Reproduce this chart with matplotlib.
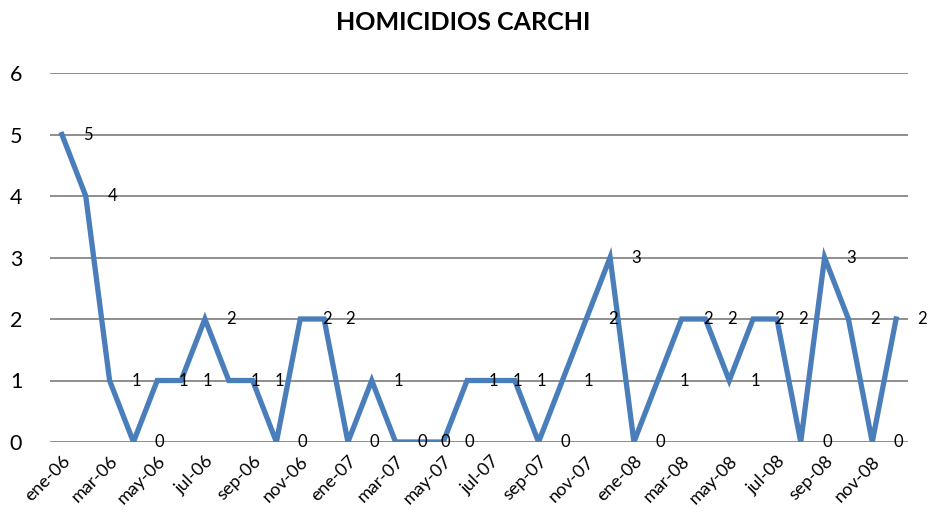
import matplotlib
matplotlib.use('Agg')

import numpy as np
import matplotlib.pyplot as plt

# Monthly data, ene-06 .. dic-08
months = ['ene', 'feb', 'mar', 'abr', 'may', 'jun',
          'jul', 'ago', 'sep', 'oct', 'nov', 'dic']
years = ['06', '07', '08']
labels = ['{}-{}'.format(m, y) for y in years for m in months]

homicidios = [5, 4, 1, 0, 1, 1, 2, 1, 1, 0, 2, 2,
              0, 1, 0, 0, 0, 1, 1, 1, 0, 1, 2, 3,
              0, 1, 2, 2, 1, 2, 2, 0, 3, 2, 0, 2]

plt.rcParams['font.family'] = ['Lato', 'DejaVu Sans']

fig = plt.figure(figsize=(9.32, 5.23), dpi=100)
ax = fig.add_axes([50 / 932, 81 / 523, 858 / 932, 369 / 523])

x = np.arange(len(homicidios))
ax.plot(x, homicidios, color='#4A7EBB', linewidth=3.8, solid_joinstyle='miter', zorder=3)

# Data labels to the right of each point
for xi, v in zip(x, homicidios):
    ax.annotate(str(v), (xi, v), xytext=(19, 0), textcoords='offset points',
                ha='center', va='center', fontsize=12, color='black', zorder=4)

ax.set_xlim(-0.5, len(homicidios) - 0.5)
ax.set_ylim(0, 6)
ax.set_yticks(range(0, 7))
ax.grid(True, axis='y', color='#868686', linewidth=1.3, zorder=1)
ax.set_axisbelow(True)

ax.set_xticks(x[::2])
ax.set_xticklabels(labels[::2], rotation=45, ha='right', rotation_mode='anchor', fontsize=13)
ax.tick_params(axis='x', length=0, pad=8)
ax.tick_params(axis='y', length=0, pad=20, labelsize=15.5)

for s in ax.spines.values():
    s.set_visible(False)

fig.text(463 / 932, 1 - 23 / 523, 'HOMICIDIOS CARCHI', ha='center', va='center',
         fontsize=18, fontweight='bold')

fig.savefig('out.png', dpi=100)
plt.close()
